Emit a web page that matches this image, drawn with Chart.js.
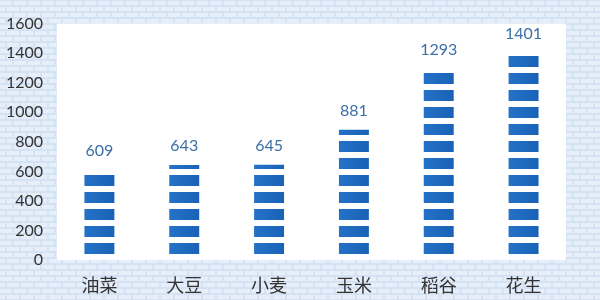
<!DOCTYPE html>
<html>
<head>
<meta charset="utf-8">
<script src="https://cdn.jsdelivr.net/npm/chart.js@4"></script>
<style>
  html, body { margin: 0; padding: 0; }
  body {
    width: 600px; height: 300px;
    background-color: #d5e2f3;
    background-image: url("data:image/svg+xml,%3Csvg xmlns='http://www.w3.org/2000/svg' width='14' height='12'%3E%3Crect x='0' y='1' width='12' height='4' fill='%23e6eef9'/%3E%3Crect x='7' y='7' width='12' height='4' fill='%23e6eef9'/%3E%3Crect x='-7' y='7' width='12' height='4' fill='%23e6eef9'/%3E%3C/svg%3E");
  }
  #wrap { width: 600px; height: 300px; position: relative; }
</style>
</head>
<body>
<div id="wrap"><canvas id="chartContainer"></canvas></div>
<script>
const crops = ['油菜', '大豆', '小麦', '玉米', '稻谷', '花生'];
const output = [609, 643, 645, 881, 1293, 1401];
const yTicks = [0, 200, 400, 600, 800, 1000, 1200, 1400, 1600];

const barPercentage = 0.353;

// striped fill, anchored to the zero line and the left edge of each bar
function stripeFill(context) {
  const chart = context.chart;
  const { chartArea, scales } = chart;
  if (!chartArea) return '#1e6bc2';
  const step = scales.x.width / crops.length;
  const w = Math.round(step * barPercentage);
  const left = scales.x.getPixelForValue(context.dataIndex) - w / 2;
  const zero = scales.y.getPixelForValue(0);
  const tile = document.createElement('canvas');
  tile.width = w;
  tile.height = 17;
  const tctx = tile.getContext('2d');
  const grad = tctx.createLinearGradient(0, 0, w, 0);
  grad.addColorStop(0, '#2473c9');
  grad.addColorStop(1, '#1a62b6');
  tctx.fillStyle = grad;
  tctx.fillRect(0, 0, w, 11);
  const pattern = chart.ctx.createPattern(tile, 'repeat');
  pattern.setTransform(new DOMMatrix().translate(left, zero));
  return pattern;
}

const plotBackground = {
  id: 'plotBackground',
  beforeDraw(chart) {
    const { ctx, chartArea } = chart;
    ctx.save();
    ctx.fillStyle = '#ffffff';
    ctx.fillRect(chartArea.left, chartArea.top, chartArea.right - chartArea.left, chartArea.bottom - chartArea.top);
    ctx.restore();
  }
};

const valueLabels = {
  id: 'valueLabels',
  afterDatasetsDraw(chart) {
    const ctx = chart.ctx;
    const meta = chart.getDatasetMeta(0);
    ctx.save();
    ctx.font = '16px Lato, "Noto Sans", sans-serif';
    ctx.fillStyle = '#3b6fa7';
    ctx.textAlign = 'center';
    ctx.textBaseline = 'middle';
    meta.data.forEach((bar, i) => {
      ctx.fillText(output[i], bar.x, bar.y - 19);
    });
    ctx.restore();
  }
};

new Chart(document.getElementById('chartContainer'), {
  type: 'bar',
  data: {
    labels: crops,
    datasets: [{
      data: output,
      backgroundColor: stripeFill,
      barPercentage: barPercentage,
      categoryPercentage: 1,
    }]
  },
  options: {
    responsive: true,
    maintainAspectRatio: false,
    animation: false,
    layout: {
      padding: { left: 0, right: 34, top: 17, bottom: 0 }
    },
    plugins: {
      legend: { display: false },
      tooltip: { enabled: false },
    },
    scales: {
      x: {
        grid: { display: false, drawTicks: false },
        border: { display: false },
        ticks: {
          padding: 14,
          color: '#333333',
          font: { size: 18, family: '"Noto Sans CJK SC", sans-serif' },
        },
        afterFit(scale) { scale.height = 40; }
      },
      y: {
        min: 0,
        max: 1600,
        grid: { display: false, drawTicks: false },
        border: { display: false },
        afterBuildTicks(scale) { scale.ticks = yTicks.map(v => ({ value: v })); },
        ticks: {
          padding: 14,
          color: '#333333',
          font: { size: 16, family: 'Lato, "Noto Sans", sans-serif' },
          callback: (value) => String(value),
        },
        afterFit(scale) { scale.width = 57; }
      }
    }
  },
  plugins: [plotBackground, valueLabels]
});
</script>
</body>
</html>
